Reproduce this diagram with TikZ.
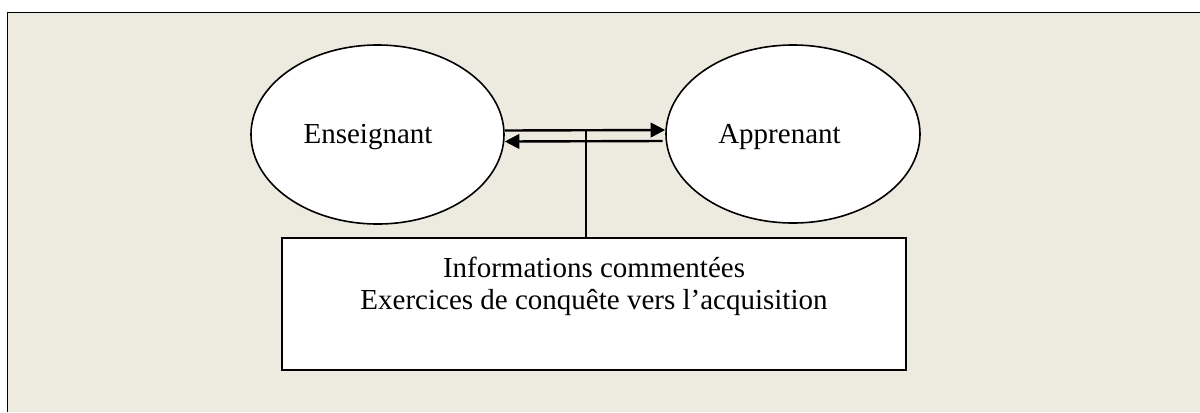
\documentclass[tikz,border=0pt]{standalone}
\usepackage{fontspec}
\setmainfont{Liberation Serif}
\usetikzlibrary{shapes.geometric,arrows.meta}
\definecolor{bgtan}{HTML}{EDEAE0}
\tikzset{
  oval/.style={ellipse, draw=black, line width=1.2pt, fill=white, inner sep=0pt},
  lbl/.style={font=\fontsize{21.75}{26}\selectfont, inner sep=0pt, anchor=base},
  infobox/.style={rectangle, draw=black, line width=1.5pt, fill=white, inner sep=0pt,
    minimum width=468pt, minimum height=99pt},
  arr/.style={line width=1.8pt, -{Triangle[length=11pt,width=11pt]}},
  link/.style={line width=1.8pt}
}
\begin{document}
\begin{tikzpicture}[x=0.75pt,y=-0.75pt]
\useasboundingbox (0,0) rectangle (1200,412);
\fill[bgtan] (7.5,12.5) rectangle (1200,412);
\draw[line width=1.3pt] (7.5,412) -- (7.5,12.5) -- (1200,12.5);

\node[oval, minimum width=189.75pt, minimum height=134.25pt] (ens) at (377.5,134.5) {};
\node[oval, minimum width=190.5pt, minimum height=133.5pt] (app) at (793,134) {};
\node[lbl] (ensT) at (368,143) {Enseignant};
\node[lbl] (appT) at (779.5,143) {Apprenant};

\node[infobox] (box) at (594,304) {};
\node[lbl] (boxT1) at (594,277) {Informations commentées};
\node[lbl] (boxT2) at (594,309) {Exercices de conquête vers l’acquisition};

\draw[arr] ([yshift=3pt]ens.east) -- ([yshift=3pt]app.west);
\draw[arr] ([yshift=-5.25pt,xshift=-2pt]app.west) -- ([yshift=-5.25pt]ens.east);
\coordinate (jn) at (586,130);
\draw[link] (jn) -- (jn |- box.north);
\end{tikzpicture}
\end{document}
